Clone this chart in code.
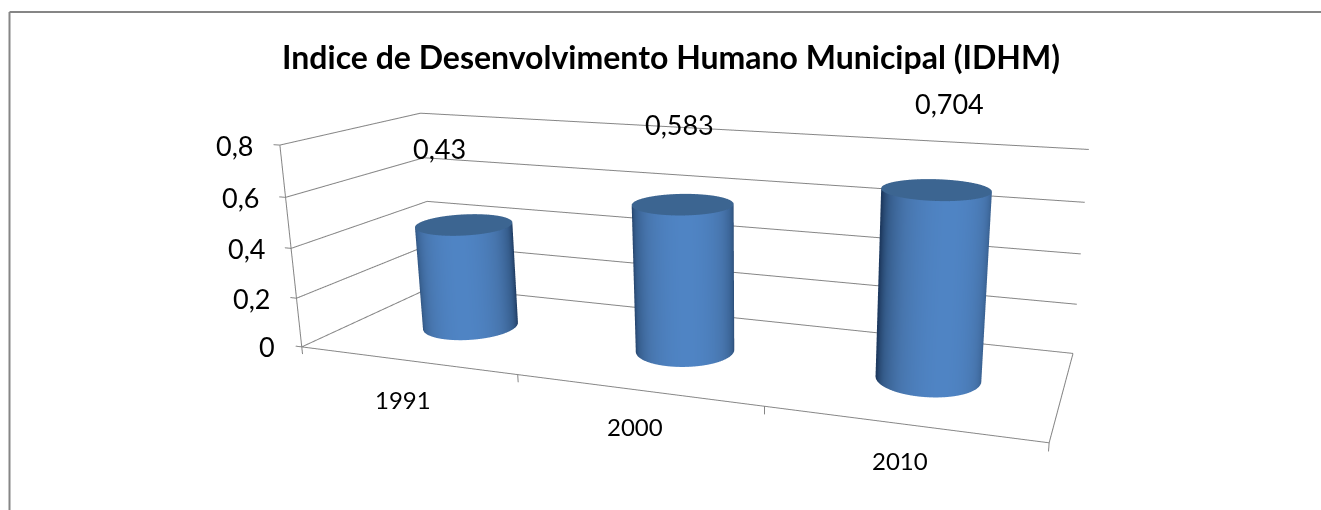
import numpy as np, plotly.graph_objects as go, math

W, H = 1321, 510
TITLE = "Indice de Desenvolvimento Humano Municipal (IDHM)"
years = ["1991", "2000", "2010"]
idhm = [0.43, 0.583, 0.704]
idhm_labels = ["0,43", "0,583", "0,704"]
z_ticks = [0, 0.2, 0.4, 0.6, 0.8]
z_tick_labels = ["0", "0,2", "0,4", "0,6", "0,8"]

# axis ranges and camera
XR=[-0.6,2.6]; YR=[-0.6,0.6]; ZR=[-0.05,0.85]
ASPECT=dict(x=2.0,y=0.7119,z=0.5857)
EYE=dict(x=1.1083,y=-2.6798,z=0.7467)
CENTER=dict(x=0.1656,y=0.1162,z=-0.0944)
UP=dict(x=0.0217,y=-0.0711,z=1)
F=1200.86; PX=761.27; PY=281.21
T=math.tan(math.pi/8)
FIGH=int(round(2*F*T))
TOP=int(round(FIGH/2-PY))           # part of the figure above the window
yp=lambda py:1-(py+TOP)/FIGH        # window pixel -> paper

sx=ASPECT['x']/(XR[1]-XR[0]); sy=ASPECT['y']/(YR[1]-YR[0])
rx=0.2; ry=rx*sx/sy
th=np.linspace(0,2*np.pi,181)
thL=math.radians(-65)
side_scale=[[0,'#1e3a60'],[0.35,'#365d8c'],[0.7,'#4775ad'],[1,'#4f84c4']]
LIT=dict(ambient=1,diffuse=0,specular=0,fresnel=0,roughness=1)
fig=go.Figure()
for i,v in enumerate(idhm):
    X=np.vstack([i+rx*np.cos(th)]*2); Y=np.vstack([ry*np.sin(th)]*2)
    Z=np.vstack([np.zeros_like(th),np.full_like(th,v)])
    t=np.clip(np.cos(th-thL),0,1); SC=np.vstack([t,t])
    fig.add_trace(go.Surface(x=X,y=Y,z=Z,surfacecolor=SC,cmin=0,cmax=1,colorscale=side_scale,showscale=False,lighting=LIT,hoverinfo='skip'))
    Xc=np.vstack([np.full_like(th,i),X[0]]); Yc=np.vstack([np.zeros_like(th),Y[0]]); Zc=np.full_like(Xc,v)
    fig.add_trace(go.Surface(x=Xc,y=Yc,z=Zc,surfacecolor=np.zeros_like(Xc),cmin=0,cmax=1,colorscale=[[0,'#3c6591'],[1,'#3c6591']],showscale=False,lighting=LIT,hoverinfo='skip'))
def line(x,y,z,w=2,col='#868686'):
    fig.add_trace(go.Scatter3d(x=x,y=y,z=z,mode='lines',line=dict(color=col,width=w),hoverinfo='skip'))
x0,x1=-.5,2.5; y0,y1=-.5,.5
for z in z_ticks:
    line([x0-.03,x0,x0,x1],[y0,y0,y1,y1],[z,z,z,z])
line([x0,x1,x1],[y0,y0,y1],[0,0,0])
line([x0,x0],[y0,y0],[-.03,.8])
for k in (.5,1.5,2.5):
    line([k,k],[y0,y0],[0,-.03])
ann=[]
cat_dx=[-3,-2,-1]; cat_dy=[-39,-37,-37]
for i,y in enumerate(years):
    ann.append(dict(x=i,y=y0,z=0,text=y,showarrow=False,xshift=cat_dx[i],yshift=cat_dy[i],font=dict(family='Lato',size=24,color='#000')))
lab_dx=[-24,-3,13]; lab_dy=[76,80,86]
for i,v in enumerate(idhm):
    ann.append(dict(x=i,y=0,z=v,text=idhm_labels[i],showarrow=False,xshift=lab_dx[i],yshift=lab_dy[i],font=dict(family='Lato',size=27,color='#000')))
for z,s in zip(z_ticks,z_tick_labels):
    ann.append(dict(x=x0,y=y0,z=z,text=s,showarrow=False,xanchor='right',xshift=-24,font=dict(family='Lato',size=27,color='#000')))
fig.update_layout(width=W,height=FIGH,margin=dict(l=0,r=0,t=0,b=0),showlegend=False,paper_bgcolor='white',
  title=dict(text="<b>%s</b>"%TITLE,x=671/W,y=yp(58),xref='paper',yref='paper',xanchor='center',yanchor='middle',font=dict(family='Lato',size=32,color='#000')),
  shapes=[dict(type='line',xref='paper',yref='paper',x0=9.5/W,x1=1,y0=yp(12),y1=yp(12),line=dict(color='#868686',width=2)),
          dict(type='line',xref='paper',yref='paper',x0=9.5/W,x1=9.5/W,y0=yp(12),y1=yp(510),line=dict(color='#868686',width=2))],
  scene=dict(domain=dict(x=[(2*PX-W)/W,1],y=[0,1]),aspectmode='manual',aspectratio=ASPECT,bgcolor='white',
    camera=dict(eye=EYE,center=CENTER,up=UP),annotations=ann,
    xaxis=dict(range=XR,visible=False),yaxis=dict(range=YR,visible=False),zaxis=dict(range=ZR,visible=False)))
fig.write_html("out.html",config=dict(displayModeBar=False),post_script=
  "document.body.style.margin='0';document.body.style.overflow='hidden';document.documentElement.style.overflow='hidden';"
  "document.querySelector('.plotly-graph-div').style.marginTop='-%dpx';"%TOP)
